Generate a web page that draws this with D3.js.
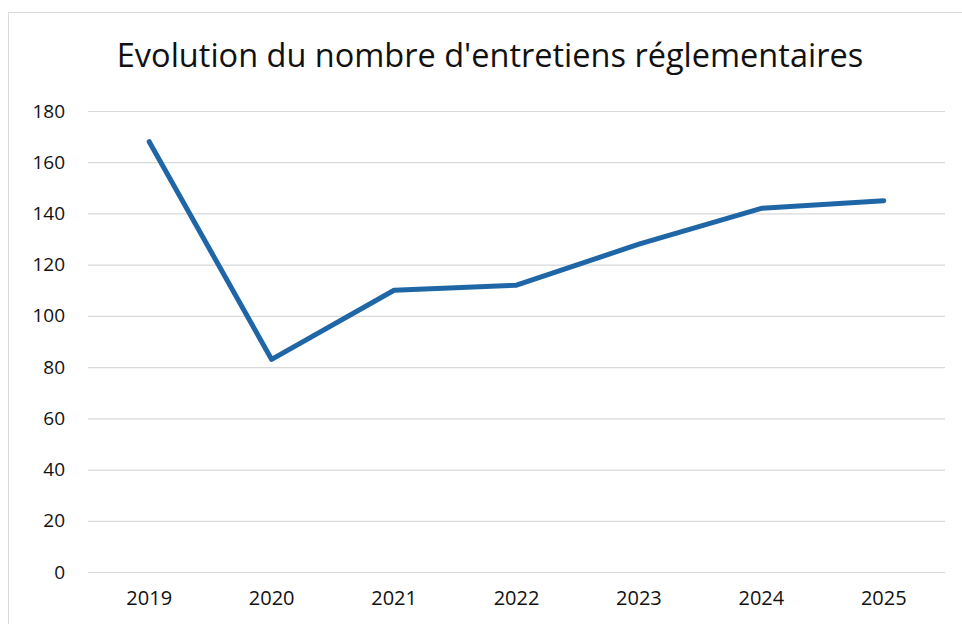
<!DOCTYPE html>
<html>
<head>
<meta charset="utf-8">
<script src="https://cdn.jsdelivr.net/npm/d3@7"></script>
<style>
  body { margin: 0; background: #fff; }
  text { font-family: "Open Sans", "Noto Sans", sans-serif; fill: #111; }
</style>
</head>
<body>
<svg id="chart" width="962" height="624"></svg>
<script>
// data
var years = ["2019", "2020", "2021", "2022", "2023", "2024", "2025"];
var counts = [168, 83, 110, 112, 128, 142, 145];
var yTicks = [0, 20, 40, 60, 80, 100, 120, 140, 160, 180];

var width = 962,
	height = 624,
	m = [111, 17, 52, 88]; // top, right, bottom, left

var svg = d3.select("#chart");

// frame of the chart area
svg.append("rect")
	.attr("x", 8.5)
	.attr("y", 12.5)
	.attr("width", width)
	.attr("height", height)
	.attr("fill", "none")
	.attr("stroke", "#d9d9d9");

var xScale = d3.scaleBand()
	.domain(years)
	.range([m[3], width - m[1]]);

var yScale = d3.scaleLinear()
	.domain([0, 180])
	.range([height - m[2], m[0]]);

// title
svg.append("text")
	.attr("x", 490)
	.attr("y", 67)
	.attr("text-anchor", "middle")
	.attr("font-size", 32.5)
	.text("Evolution du nombre d'entretiens réglementaires");

// grid + y labels
var yAxis = d3.axisLeft(yScale)
	.tickValues(yTicks)
	.tickSize(-(width - m[1] - m[3]))
	.tickPadding(22);

svg.append("g")
	.attr("transform", `translate(${m[3]},0)`)
	.call(yAxis)
	.call(g => g.select(".domain").remove())
	.call(g => g.selectAll(".tick line").attr("stroke", "#d9d9d9").attr("stroke-width", 1.2))
	.call(g => g.selectAll(".tick text")
		.attr("font-size", 19)
		.attr("font-family", "Open Sans, sans-serif")
		.attr("fill", "#111")
		.attr("text-anchor", "end")
		.attr("x", -23));

// x labels
var xAxis = d3.axisBottom(xScale)
	.tickSize(0)
	.tickPadding(19);

svg.append("g")
	.attr("transform", `translate(0,${height - m[2]})`)
	.call(xAxis)
	.call(g => g.select(".domain").remove())
	.call(g => g.selectAll(".tick text")
		.attr("font-size", 20)
		.attr("font-family", "Open Sans, sans-serif")
		.attr("fill", "#111"));

// line
var line = d3.line()
	.x((d, i) => xScale(years[i]) + xScale.bandwidth() / 2)
	.y(d => yScale(d));

svg.append("path")
	.datum(counts)
	.attr("d", line)
	.attr("fill", "none")
	.attr("stroke", "#1f66a6")
	.attr("stroke-width", 5)
	.attr("stroke-linejoin", "round")
	.attr("stroke-linecap", "round");
</script>
</body>
</html>
